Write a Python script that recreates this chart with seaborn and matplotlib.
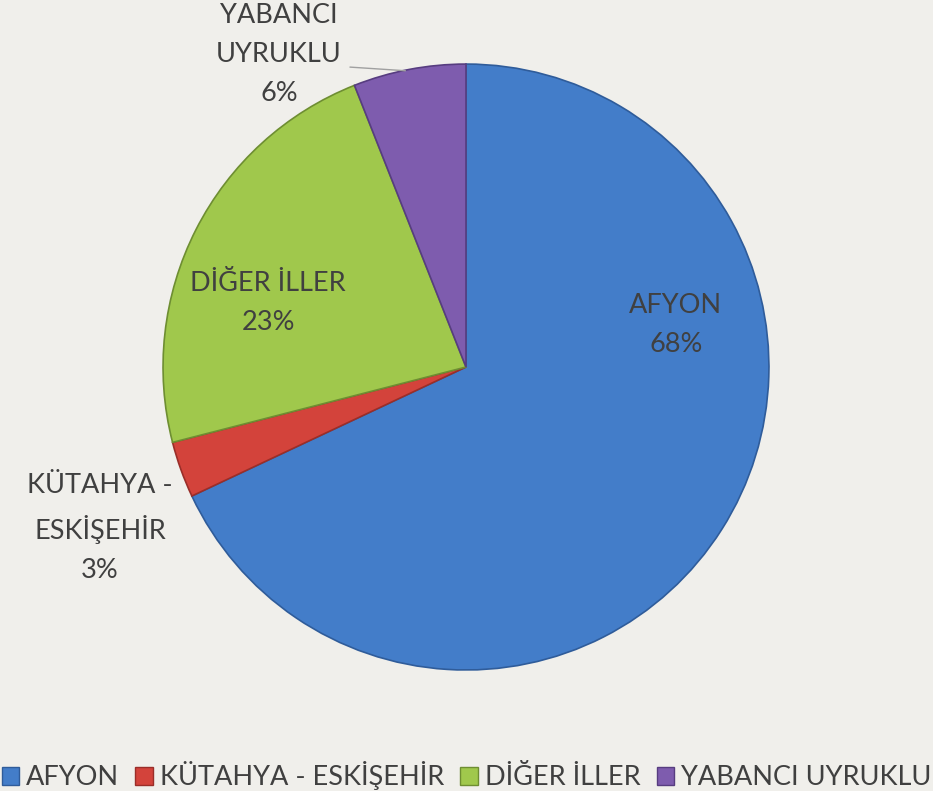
import matplotlib
matplotlib.use("Agg")
import matplotlib.pyplot as plt
import seaborn as sns
from matplotlib.patches import Patch

# veriler
categories = ["AFYON", "KÜTAHYA - ESKİŞEHİR", "DİĞER İLLER", "YABANCI UYRUKLU"]
shares = [68, 3, 23, 6]
slice_labels = ["AFYON\n68%", "KÜTAHYA -\nESKİŞEHİR\n3%", "DİĞER İLLER\n23%", "YABANCI\nUYRUKLU\n6%"]
colors = ["#437DC9", "#D3433B", "#A0C84C", "#7E5CAE"]
edges = ["#2F5C9A", "#9A2E29", "#6E8E32", "#573D80"]

BG = "#F0EFEB"
TEXT = "#404040"

sns.set_style("white", {"axes.facecolor": BG, "figure.facecolor": BG})
plt.rcParams["font.family"] = ["Lato", "DejaVu Sans"]

fig = plt.figure(figsize=(9.33, 7.91), dpi=100)
ax = fig.add_axes([0.1747, 0.153, 0.6495, 0.766])

wedges, _ = ax.pie(
    shares,
    colors=colors,
    startangle=90,
    counterclock=False,
    radius=1.0,
    wedgeprops={"linewidth": 1.2},
)
for w, ec in zip(wedges, edges):
    w.set_edgecolor(ec)

ax.set_xlim(-1, 1)
ax.set_ylim(-1, 1)
ax.set_aspect("equal")
ax.axis("off")

# etiket konumlari (pasta koordinatlari)
label_pos = [(0.693, 0.139), (-1.208, -0.531), (-0.653, 0.211), (-0.617, 1.03)]
for (x, y), txt in zip(label_pos, slice_labels):
    ax.text(x, y, txt, ha="center", va="center", fontsize=19.5,
            color=TEXT, linespacing=1.7, clip_on=False)

# yabanci uyruklu icin kilavuz cizgi
ax.plot([-0.383, -0.20], [0.99, 0.978], color="#A0A0A0", lw=1.0, clip_on=False)

handles = [Patch(facecolor=c, edgecolor=e, label=n) for c, e, n in zip(colors, edges, categories)]
fig.legend(
    handles=handles,
    loc="lower center",
    bbox_to_anchor=(0.5, -0.03),
    ncol=4,
    frameon=False,
    fontsize=19.5,
    handlelength=0.65,
    handleheight=0.65,
    handletextpad=0.25,
    columnspacing=0.6,
    labelcolor=TEXT,
)

fig.savefig("out.png", dpi=100, facecolor=BG)
